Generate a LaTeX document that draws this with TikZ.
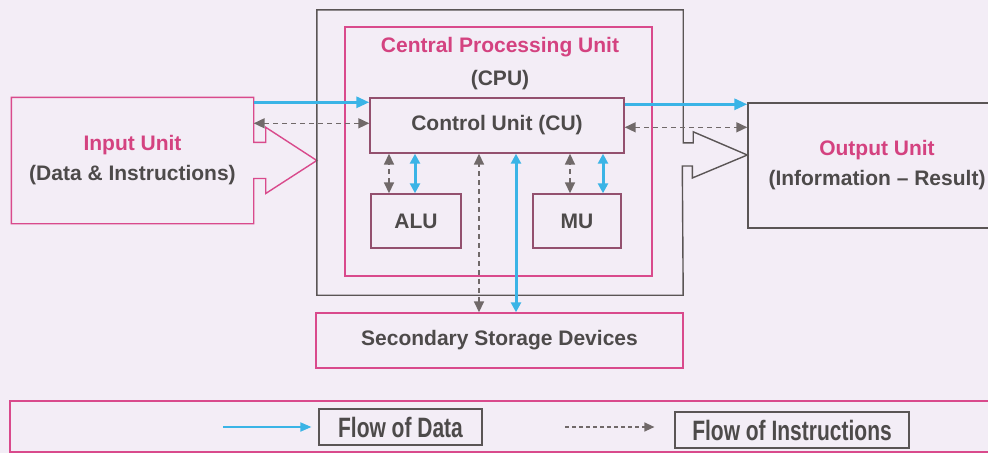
\documentclass[tikz,border=0pt]{standalone}
\usepackage{fontspec}
\setmainfont{Liberation Sans}
\newfontfamily\legendfont{Liberation Sans}[FakeStretch=0.75]
\usetikzlibrary{arrows.meta}
\definecolor{pagebg}{RGB}{243,237,246}
\definecolor{pinkline}{RGB}{217,74,140}
\definecolor{pinktext}{RGB}{212,66,128}
\definecolor{grayline}{RGB}{90,85,85}
\definecolor{graytext}{RGB}{77,74,74}
\definecolor{dataflow}{RGB}{58,180,230}
\definecolor{instrflow}{RGB}{112,105,105}

\begin{document}
\begin{tikzpicture}[x=1pt,y=-1pt,
	unit/.style={ draw=pinkline, line width=1.4pt, inner sep=0pt, align=center, text=graytext, font=\fontsize{21}{30}\selectfont\bfseries },
	unitm/.style={ unit, draw=pinkline!45!grayline },
	unitg/.style={ unit, draw=grayline },
	caption/.style={ inner sep=0pt, text=graytext, font=\fontsize{21}{30}\selectfont\bfseries },
	keybox/.style={ draw=grayline, line width=1.2pt, inner sep=0pt, minimum height=36pt, text=graytext, font=\legendfont\fontsize{28}{30}\selectfont\bfseries },
	data/.style={ dataflow, line width=3pt, -{Triangle[length=13pt,width=11pt]} },
	datab/.style={ dataflow, line width=3pt, {Triangle[length=10pt,width=10pt]}-{Triangle[length=10pt,width=10pt]} },
	dataone/.style={ dataflow, line width=1.8pt, -{Triangle[length=11pt,width=9pt]} },
	instr/.style={ instrflow, line width=1.6pt, dash pattern=on 5pt off 4pt, {Triangle[length=11pt,width=10pt]}-{Triangle[length=11pt,width=10pt]} },
	instrone/.style={ instrflow, line width=1.3pt, dash pattern=on 4pt off 3pt, -{Triangle[length=10pt,width=9pt]} }
]

\useasboundingbox (0,0) rectangle (988,453);
\clip (0,0) rectangle (988,453);
\fill[pagebg] (0,0) rectangle (988,453);

\node at (500,152.5) (computer) [minimum width=366pt, minimum height=285pt, inner sep=0pt] {};
\node at (498.5,151.5) (cpu) [unit, minimum width=307pt, minimum height=249pt] {};
\node at (500,47) (cputitle) [caption, text=pinktext] {Central Processing Unit};
\node at (500,80) (cpuabbr) [caption] {(CPU)};

\node at (132.5,160.5) (input) [unit, draw=none, minimum width=241pt, minimum height=125pt] {\textcolor{pinktext}{Input Unit}\\(Data \& Instructions)};
\node at (877,165.5) (output) [unitg, minimum width=258pt, minimum height=125pt] {\textcolor{pinktext}{Output Unit}\\(Information -- Result)};

\node at (497,125.5) (cu) [unitm, minimum width=254pt, minimum height=55pt] {Control Unit (CU)};
\node at (416,221) (alu) [unitm, minimum width=90pt, minimum height=54pt] {ALU};
\node at (577,221) (mu) [unitm, minimum width=88pt, minimum height=54pt] {MU};
\node at (499.5,340.5) (storage) [unit, minimum width=367pt, minimum height=55pt] {Secondary Storage Devices};

\draw[pinkline, line width=1.4pt] (input.north west) -- (input.north east) -- ++(0,45) -- ++(12,0) -- ++(0,-15)
	-- (computer.west |- input.east) -- ([xshift=12pt,yshift=-33pt]input.east) -- ++(0,-15) -- ++(-12,0)
	-- (input.south east) -- (input.south west) -- cycle;
\draw[grayline, line width=1.4pt] (computer.north west) -- (computer.north east) -- ++(0,133) -- ++(10,0) -- ++(0,-11)
	-- ([yshift=10.5pt]output.west) -- ++(-55,23) -- ++(0,-12) -- ++(-10,0)
	-- (computer.south east) -- (computer.south west) -- cycle;

\coordinate (indata) at ([yshift=-5pt]input.north east);
\coordinate (ininstr) at ([yshift=-26pt]input.north east);
\coordinate (outdata) at ([yshift=-7pt]cu.north east);
\coordinate (outinstr) at ([yshift=-30pt]cu.north east);
\draw[data] (indata) -- (indata -| cu.west);
\draw[instr] (ininstr) -- (ininstr -| cu.west);
\draw[data] (outdata) -- (outdata -| output.west);
\draw[instr] (outinstr) -- (outinstr -| output.west);

\coordinate (aluinstr) at ([xshift=-27pt]alu.north);
\coordinate (aludata) at ([xshift=-1pt]alu.north);
\coordinate (muinstr) at ([xshift=-7pt]mu.north);
\coordinate (mudata) at ([xshift=26pt]mu.north);
\coordinate (storeinstr) at ([xshift=-20.5pt]storage.north);
\coordinate (storedata) at ([xshift=16.5pt]storage.north);
\draw[instr] (aluinstr) -- (aluinstr |- cu.south);
\draw[datab] (aludata) -- (aludata |- cu.south);
\draw[instr] (muinstr) -- (muinstr |- cu.south);
\draw[datab] (mudata) -- (mudata |- cu.south);
\draw[instr] (storeinstr) -- (storeinstr |- cu.south);
\draw[datab] (storedata) -- (storedata |- cu.south);

\node at (505,426.5) (legend) [unit, minimum width=990pt, minimum height=51pt] {};
\node at (400.5,427) (datakey) [keybox, minimum width=163pt] {Flow of Data};
\node at (792,430) (instrkey) [keybox, minimum width=234pt] {Flow of Instructions};
\coordinate (datastart) at (223,427);
\coordinate (instrstart) at (565,427);
\draw[dataone] (datastart) -- ([xshift=-7pt]datastart -| datakey.west);
\draw[instrone] (instrstart) -- ([xshift=-20pt]instrstart -| instrkey.west);

\end{tikzpicture}
\end{document}
